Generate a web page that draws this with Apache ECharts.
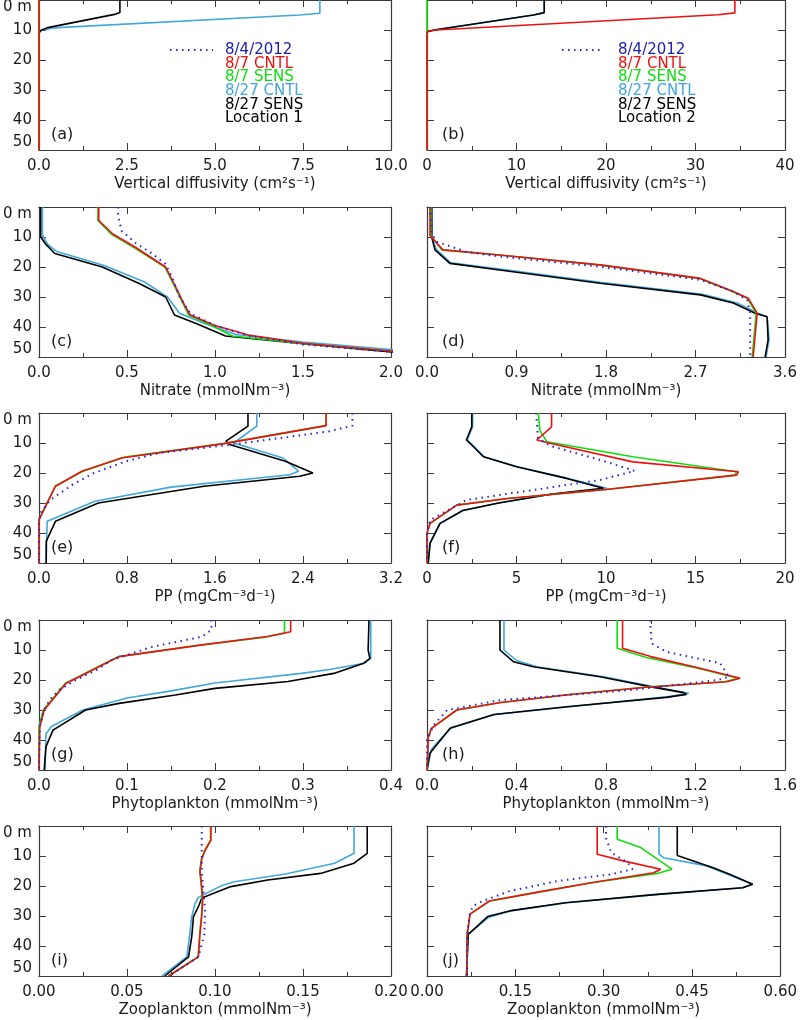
<!DOCTYPE html>
<html><head><meta charset="utf-8">
<script src="https://cdn.jsdelivr.net/npm/echarts@6/dist/echarts.min.js"></script>
<style>html,body{margin:0;padding:0;background:#fff}#c{width:800px;height:1020px}</style>
</head><body><div id="c"></div><script>
// ---------- DATA: each point is [value, depth (m)] ----------
// (a) Vertical diffusivity, Location 1
const a_obs = [];
const a_cntl7 = [[0,0],[0,50]];
const a_sens7 = [[0,0],[0,50]];
const a_cntl27 = [[7.98,0],[7.98,4.4],[7.4,5.0],[0.4,9.3],[0.05,10.2],[0,11],[0,50]];
const a_sens27 = [[2.3,0],[2.3,4.2],[2.15,4.8],[0.25,9.2],[0.05,10.2],[0,11],[0,50]];
// (b) Vertical diffusivity, Location 2
const b_obs = [];
const b_cntl7 = [[34.4,0],[34.4,4.3],[32.5,4.9],[1.0,10],[0,10.6],[0,50]];
const b_sens7 = [[0,0],[0,50]];
const b_cntl27 = [[13.1,0],[13.1,4.2],[11.9,5],[0.8,10],[0,10.6],[0,50]];
const b_sens27 = [[13.1,0],[13.1,4.2],[11.9,5],[0.8,10],[0,10.6],[0,50]];
// (c) Nitrate, Location 1
const c_obs = [[0.45,0],[0.45,3],[0.47,8],[0.55,12],[0.63,15],[0.72,19],[0.76,24],[0.8,30],[0.86,35.5],[1.0,39.5],[1.2,43],[1.5,45.8],[2.0,48.3],[2.4,50]];
const c_cntl7 = [[0.34,0],[0.34,4.5],[0.42,9],[0.55,13.5],[0.72,20],[0.78,27],[0.83,33],[0.86,36],[1.0,39.5],[1.2,42.8],[1.5,45.4],[2.0,48],[2.4,50]];
const c_sens7 = [[0.335,0],[0.335,4.5],[0.41,9],[0.54,13.5],[0.715,20],[0.775,27],[0.825,33],[0.85,36],[0.98,39.5],[1.1,43],[1.5,45.5],[2.0,48],[2.4,50]];
const c_cntl27 = [[0.02,0],[0.02,9.5],[0.05,12.5],[0.1,14.8],[0.37,19.5],[0.6,25],[0.73,30],[0.8,35.5],[0.95,39],[1.12,42.5],[1.5,45],[2.0,47.5],[2.4,49.5]];
const c_sens27 = [[0.01,0],[0.01,10],[0.04,12.5],[0.09,15.5],[0.36,20],[0.57,25.5],[0.72,30],[0.77,36],[0.9,39],[1.06,43],[1.5,45.6],[2.0,48.3],[2.4,50]];
// (d) Nitrate, Location 2
const d_obs = [[0.03,0],[0.05,9],[0.1,11.6],[0.4,15],[0.73,16.5],[1.74,19.9],[2.75,24.3],[3.08,28.2],[3.22,31],[3.25,35.4],[3.25,50]];
const d_cntl7 = [[0.03,0],[0.03,9.5],[0.16,14.3],[0.73,16],[1.74,19.3],[2.75,23.8],[3.08,28.2],[3.23,30.4],[3.32,35.4],[3.28,50]];
const d_sens7 = [[0.04,0],[0.04,9.5],[0.15,14.3],[0.72,16],[1.73,19.3],[2.74,23.8],[3.07,28.2],[3.22,30.4],[3.31,35.4],[3.27,50]];
const d_cntl27 = [[0.05,0],[0.05,10],[0.09,14],[0.24,18.6],[0.75,20.8],[1.76,25.2],[2.77,29.1],[3.12,32],[3.32,35.3],[3.42,36.6],[3.44,44],[3.41,50]];
const d_sens27 = [[0.047,0],[0.047,10],[0.08,14.3],[0.23,18.8],[0.73,21],[1.74,25.4],[2.75,29.3],[3.08,32],[3.30,35.4],[3.42,36.6],[3.43,44.3],[3.40,50]];
// (e) Primary production, Location 1
const e_obs = [[2.85,0],[2.85,4.2],[2.64,6.1],[1.74,10.6],[1.1,13.3],[0.8,16],[0.5,20],[0.3,24],[0.105,28.9],[0.02,33],[0,36],[0,50]];
const e_cntl7 = [[2.61,0],[2.61,4.2],[1.68,10.2],[0.75,15],[0.39,19.4],[0.15,24.4],[0,35.6],[0,50]];
const e_sens7 = [[2.61,0],[2.61,4.2],[1.68,10.2],[0.78,14.7],[0.4,19.4],[0.15,24.4],[0,35.6],[0,50]];
const e_cntl27 = [[1.98,0],[1.98,4.4],[1.77,10],[2.22,15],[2.36,19.4],[2.28,20.6],[1.2,24.7],[0.51,29.4],[0.075,36.1],[0.066,50]];
const e_sens27 = [[1.9,0],[1.9,4.4],[1.70,9.4],[1.74,10.6],[2.24,16.1],[2.49,20],[2.37,21.1],[1.5,24.4],[0.54,30],[0.15,36.1],[0.066,42.8],[0.066,50]];
// (f) Primary production, Location 2
const f_obs = [[6.1,0],[6.2,8.4],[6.9,11],[9.7,15.7],[11.6,19.3],[9.7,22.3],[5.9,25.7],[2.2,29],[0.17,35.7],[0,40],[0,50]];
const f_cntl7 = [[6.96,0],[6.96,4.6],[6.13,9],[6.87,10.1],[11.5,16.3],[17.4,19.6],[17.3,20.7],[10.0,25.5],[4.5,28.5],[1.66,30.7],[0.17,36.8],[0,40],[0,50]];
const f_sens7 = [[6.22,0],[6.3,5.7],[6.7,9.6],[11.5,14.6],[17.3,19.6],[17.2,20.7],[10.0,25.5],[4.5,28.5],[1.66,30.7],[0.17,36.8],[0,40],[0,50]];
const f_cntl27 = [[2.55,0],[2.55,4.6],[2.25,9],[2.45,10.1],[3.2,14.6],[5.05,17.9],[7.85,21.8],[10.05,25.1],[7.0,27],[4.0,30],[2.0,32.5],[0.73,36.8],[0.17,43.4],[0.07,50]];
const f_sens27 = [[2.5,0],[2.5,4.6],[2.2,9],[2.4,10.1],[3.15,14.6],[5.0,17.9],[7.8,21.8],[9.85,25.1],[7.0,27],[4.0,30],[2.0,32.5],[0.73,36.8],[0.17,43.4],[0.07,50]];
// (g) Phytoplankton, Location 1
const g_obs = [[0.196,0],[0.196,3.3],[0.185,5.6],[0.129,8.9],[0.083,13.3],[0.065,16.7],[0.042,20],[0.023,23.3],[0.012,26.7],[0.006,30],[0.001,35.6],[0,50]];
const g_cntl7 = [[0.286,0],[0.286,3.9],[0.26,5.5],[0.185,8.3],[0.091,12.2],[0.076,14.4],[0.046,18.9],[0.031,21.1],[0.006,30],[0.001,35.6],[0,50]];
const g_sens7 = [[0.279,0],[0.279,4.4],[0.255,5.8],[0.18,8.5],[0.09,12.2],[0.075,14.4],[0.045,18.9],[0.03,21.1],[0.005,30],[0,35.6],[0,50]];
const g_cntl27 = [[0.377,0],[0.377,12.8],[0.37,14.4],[0.33,16.5],[0.298,17.8],[0.2,21],[0.147,23.8],[0.1,26],[0.05,30],[0.014,35.5],[0.008,38],[0.007,50]];
const g_sens27 = [[0.375,0],[0.374,10],[0.376,12.8],[0.369,14.4],[0.335,17.8],[0.283,20.5],[0.2,22.8],[0.155,25],[0.091,27.8],[0.053,30],[0.016,36.7],[0.008,42.2],[0.006,50]];
// (h) Phytoplankton, Location 2
const h_obs = [[0.997,0],[1.004,7.8],[1.07,10.6],[1.31,14.4],[1.35,18.9],[1.3,20],[0.92,23.3],[0.33,26.7],[0.09,30],[0.03,35],[0,40],[0,50]];
const h_cntl7 = [[0.874,0],[0.874,9.4],[1.0,12.2],[1.22,16.1],[1.40,19.4],[1.34,20.6],[0.98,22.4],[0.62,25],[0.33,27.5],[0.133,30],[0.02,36.1],[0.006,39],[0,50]];
const h_sens7 = [[0.85,0],[0.85,9.4],[0.98,12.5],[1.21,16.1],[1.39,19.4],[1.33,20.6],[0.97,22.4],[0.62,25],[0.33,27.5],[0.133,30],[0.02,36.1],[0.006,39],[0,50]];
const h_cntl27 = [[0.344,0],[0.344,10],[0.4,13.5],[0.49,15.6],[0.79,18.9],[1.01,22.2],[1.17,24.4],[1.08,25.5],[0.64,28.9],[0.3,31.5],[0.11,35.8],[0.02,43],[0,50]];
const h_sens27 = [[0.326,0],[0.326,10],[0.386,13.9],[0.475,15.6],[0.773,18.9],[0.997,22.2],[1.146,24.2],[1.16,24.8],[1.07,25.8],[0.624,28.9],[0.3,31.5],[0.103,36.1],[0.013,44.4],[0,50]];
// (i) Zooplankton, Location 1
const i_obs = [[0.0925,0],[0.0925,15],[0.0935,22],[0.0944,28],[0.094,36],[0.0906,43.6],[0.074,50]];
const i_cntl7 = [[0.0977,0],[0.0977,4.7],[0.0945,8],[0.0925,11],[0.0915,15],[0.0925,20.2],[0.093,25],[0.0925,30],[0.0915,36],[0.0906,43.6],[0.0737,50]];
const i_sens7 = [[0.0975,0],[0.0975,4.7],[0.0943,8],[0.0923,11],[0.0913,15],[0.0923,20.2],[0.0928,25],[0.0923,30],[0.0913,36],[0.0904,43.6],[0.0735,50]];
const i_cntl27 = [[0.179,0],[0.179,9.1],[0.168,12.4],[0.14,16],[0.111,18.6],[0.104,19.8],[0.0906,23.8],[0.0887,25.8],[0.0868,30.2],[0.0855,37],[0.084,43.6],[0.070,50]];
const i_sens27 = [[0.1865,0],[0.1865,9.1],[0.179,12.4],[0.160,15.8],[0.130,18],[0.109,20.2],[0.0925,24],[0.0906,26.9],[0.0878,30.2],[0.0868,36.9],[0.085,43.6],[0.0715,50]];
// (j) Zooplankton, Location 2
const j_obs = [[0.304,0],[0.304,4],[0.313,8.9],[0.341,12.2],[0.349,14.4],[0.313,16.1],[0.223,18.3],[0.14,21.7],[0.095,25],[0.078,26.7],[0.073,29],[0.068,36],[0.068,50]];
const j_cntl7 = [[0.289,0],[0.289,9.4],[0.335,11.7],[0.397,14.4],[0.385,15.6],[0.279,18.9],[0.184,22.2],[0.106,25],[0.073,29.4],[0.068,36.7],[0.068,50]];
const j_sens7 = [[0.323,0],[0.323,4.4],[0.363,7.2],[0.416,14.4],[0.391,15.8],[0.279,18.9],[0.184,22.2],[0.106,25],[0.073,29.4],[0.068,36.7],[0.068,50]];
const j_cntl27 = [[0.394,0],[0.394,9.4],[0.402,10.6],[0.475,13.3],[0.553,19.4],[0.536,20.6],[0.393,22.8],[0.237,25.6],[0.142,28.3],[0.105,30.4],[0.07,36.1],[0.067,50]];
const j_sens27 = [[0.425,0],[0.425,9.8],[0.486,13.9],[0.514,16.1],[0.553,19.4],[0.536,20.6],[0.391,22.8],[0.235,25.6],[0.14,28.3],[0.103,30.2],[0.07,36.1],[0.067,50]];

// ---------- AXES / LABELS ----------
const xMax = [10, 40, 2, 3.6, 3.2, 20, 0.4, 1.6, 0.2, 0.6];
const xStep = [2.5, 10, 0.5, 0.9, 0.8, 5, 0.1, 0.4, 0.05, 0.15];
const xDecimals = [1, 0, 1, 1, 1, 0, 1, 1, 2, 2];
const xNames = [
  'Vertical diffusivity (cm²s⁻¹)', 'Vertical diffusivity (cm²s⁻¹)',
  'Nitrate (mmolNm⁻³)', 'Nitrate (mmolNm⁻³)',
  'PP (mgCm⁻³d⁻¹)', 'PP (mgCm⁻³d⁻¹)',
  'Phytoplankton (mmolNm⁻³)', 'Phytoplankton (mmolNm⁻³)',
  'Zooplankton (mmolNm⁻³)', 'Zooplankton (mmolNm⁻³)'
];
const panelLetters = ['(a)','(b)','(c)','(d)','(e)','(f)','(g)','(h)','(i)','(j)'];
const depthTicks = [0, 10, 20, 30, 40, 50];
const seriesNames = ['8/4/2012', '8/7 CNTL', '8/7 SENS', '8/27 CNTL', '8/27 SENS'];
const legendLines = ['8/4/2012', '8/7 CNTL', '8/7 SENS', '8/27 CNTL', '8/27 SENS'];
const locationLabels = ['Location 1', 'Location 2'];

const panelData = [
  [a_obs, a_cntl7, a_sens7, a_cntl27, a_sens27],
  [b_obs, b_cntl7, b_sens7, b_cntl27, b_sens27],
  [c_obs, c_cntl7, c_sens7, c_cntl27, c_sens27],
  [d_obs, d_cntl7, d_sens7, d_cntl27, d_sens27],
  [e_obs, e_cntl7, e_sens7, e_cntl27, e_sens27],
  [f_obs, f_cntl7, f_sens7, f_cntl27, f_sens27],
  [g_obs, g_cntl7, g_sens7, g_cntl27, g_sens27],
  [h_obs, h_cntl7, h_sens7, h_cntl27, h_sens27],
  [i_obs, i_cntl7, i_sens7, i_cntl27, i_sens27],
  [j_obs, j_cntl7, j_sens7, j_cntl27, j_sens27]
];

// ---------- STYLE ----------
const FONT = 'DejaVu Sans';
const FS = 15;
const TXT = '#1a1a1a';
const FRAME = '#3a3a3a';
const lineColors = ['#2424d0', '#ee1111', '#10dd10', '#42a8dc', '#000000'];
const legendTextColors = ['#2020a8', '#ee1111', '#10dd10', '#42a8dc', '#000000'];
const drawOrder = [3, 4, 2, 1, 0]; // light blue, black, green, red, dotted
const colLeft = [36, 427];
const colWidth = [355, 358];
const rowTop = [0, 207, 413, 620, 826];
const plotH = 150;

const grids = [], xAxes = [], yAxes = [], series = [], graphics = [];
for (let p = 0; p < 10; p++) {
  const col = p % 2, row = Math.floor(p / 2);
  grids.push({ left: colLeft[col], top: rowTop[row], width: colWidth[col], height: plotH, containLabel: false });
  const dec = xDecimals[p];
  xAxes.push({
    type: 'value', gridIndex: p, position: 'bottom', min: 0, max: xMax[p], interval: xStep[p],
    name: xNames[p], nameLocation: 'middle', nameGap: 27,
    nameTextStyle: { fontFamily: FONT, fontSize: FS, color: TXT },
    axisLine: { show: true, onZero: false, lineStyle: { color: FRAME, width: 1.2 } },
    axisTick: { show: true, inside: true, length: 7, lineStyle: { color: FRAME } },
    minorTick: { show: true, splitNumber: 2, length: 4, lineStyle: { color: FRAME } },
    splitLine: { show: false },
    axisLabel: { fontFamily: FONT, fontSize: FS, color: TXT, margin: 9, formatter: v => v.toFixed(dec), showMinLabel: true, showMaxLabel: true, hideOverlap: false }
  });
  xAxes.push({
    type: 'value', gridIndex: p, position: 'top', min: 0, max: xMax[p], interval: xStep[p],
    axisLine: { show: true, onZero: false, lineStyle: { color: FRAME, width: 1.2 } },
    axisTick: { show: true, inside: true, length: 7, lineStyle: { color: FRAME } },
    minorTick: { show: true, splitNumber: 2, length: 4, lineStyle: { color: FRAME } },
    splitLine: { show: false }, axisLabel: { show: false }
  });
  yAxes.push({
    type: 'value', gridIndex: p, position: 'left', inverse: true, min: 0, max: 50, interval: 10,
    axisLine: { show: true, onZero: false, lineStyle: { color: FRAME, width: 1.2 } },
    axisTick: { show: true, inside: true, length: 7, lineStyle: { color: FRAME } },
    splitLine: { show: false },
    axisLabel: {
      show: col === 0, fontFamily: FONT, fontSize: FS, color: TXT, margin: 7,
      formatter: v => (v === depthTicks[0] ? '0 m' : String(v)),
      verticalAlignMinLabel: 'top', verticalAlignMaxLabel: 'bottom'
    }
  });
  yAxes.push({
    type: 'value', gridIndex: p, position: 'right', inverse: true, min: 0, max: 50, interval: 10,
    axisLine: { show: true, onZero: false, lineStyle: { color: FRAME, width: 1.2 } },
    axisTick: { show: true, inside: true, length: 7, lineStyle: { color: FRAME } },
    splitLine: { show: false }, axisLabel: { show: false }
  });
  drawOrder.forEach((k, idx) => {
    const dotted = k === 0;
    series.push({
      name: seriesNames[k], type: 'line', xAxisIndex: 2 * p, yAxisIndex: 2 * p,
      data: panelData[p][k], showSymbol: false, symbol: 'none', clip: true,
      z: 2 + idx, animation: false, silent: true,
      lineStyle: dotted ? { color: lineColors[k], width: 2, type: [1.5, 4.5] } : { color: lineColors[k], width: 1.6 }
    });
  });
  graphics.push({
    type: 'text', left: colLeft[col] + 15, top: rowTop[row] + 127,
    style: { text: panelLetters[p], fontFamily: FONT, fontSize: 16, fill: TXT }
  });
}

// legends for (a) and (b)
const legSample = [[170, 213], [562, 600]];
const legTextX = [225, 618];
for (let col = 0; col < 2; col++) {
  graphics.push({
    type: 'line', shape: { x1: legSample[col][0], y1: 50, x2: legSample[col][1], y2: 50 },
    style: { stroke: lineColors[0], lineWidth: 2, lineDash: [1.5, 4.5] }
  });
  const lines = legendLines.concat([locationLabels[col]]);
  const colors = legendTextColors.concat(['#000000']);
  lines.forEach((t, i) => {
    graphics.push({
      type: 'text', x: legTextX[col], y: 50 + i * 13.7,
      style: { text: t, fontFamily: FONT, fontSize: FS, fill: colors[i], textVerticalAlign: 'middle', verticalAlign: 'middle' }
    });
  });
}

const chart = echarts.init(document.getElementById('c'), null, { renderer: 'canvas' });
chart.setOption({
  animation: false,
  backgroundColor: '#ffffff',
  grid: grids, xAxis: xAxes, yAxis: yAxes, series: series, graphic: graphics
});
</script></body></html>
